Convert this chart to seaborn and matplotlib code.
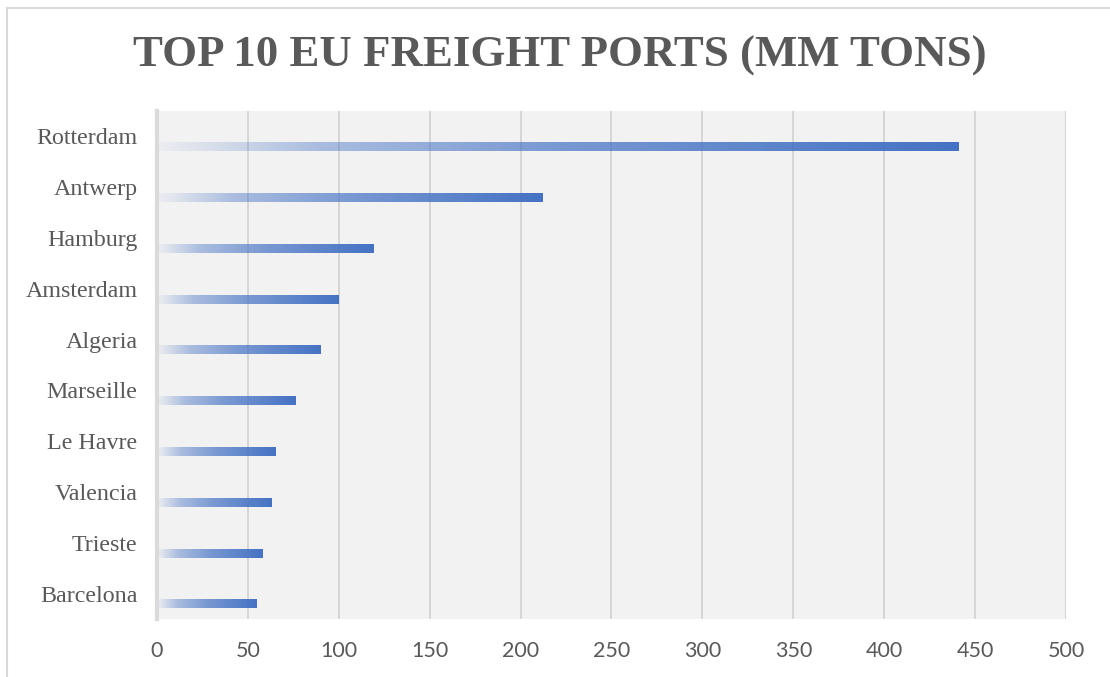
import matplotlib
matplotlib.use("Agg")
import matplotlib.pyplot as plt
import numpy as np
import pandas as pd
import seaborn as sns
from matplotlib.colors import to_rgb
from matplotlib.patches import Rectangle


PORTS = ["Rotterdam", "Antwerp", "Hamburg", "Amsterdam", "Algeria",
         "Marseille", "Le Havre", "Valencia", "Trieste", "Barcelona"]
TONS = [441, 212, 119, 100, 90, 76, 65, 63, 58, 55]
X_TICKS = [0, 50, 100, 150, 200, 250, 300, 350, 400, 450, 500]

TITLE = "TOP 10 EU FREIGHT PORTS (MM TONS)"
BAR_COLOR = "#4472C4"
TEXT_COLOR = "#595959"
GRID_COLOR = "#d4d4d4"
PANEL_COLOR = "#f2f2f2"


def gradient_image(color: str, n: int = 256) -> np.ndarray:
    # per-bar fade from nearly transparent on the left to solid on the right
    t = np.linspace(0, 1, n)
    alpha = np.interp(t, [0.0, 0.05, 0.2, 0.5, 1.0], [0.04, 0.12, 0.42, 0.7, 1.0])
    img = np.zeros((1, n, 4))
    img[..., :3] = to_rgb(color)
    img[..., 3] = alpha
    return img


sns.set_style("white")
plt.rcParams["font.family"] = ["Liberation Serif", "DejaVu Serif"]

df = pd.DataFrame({"port": PORTS, "tons": TONS})

fig = plt.figure(figsize=(11.1, 6.77), dpi=100)
ax = fig.add_axes([0.1414, 0.0857, 0.8190, 0.7503])
ax.set_facecolor(PANEL_COLOR)

bar_height = 0.16
offset = 0.21
sns.barplot(data=df, x="tons", y="port", orient="h", width=bar_height,
            color=BAR_COLOR, ax=ax)

img = gradient_image(BAR_COLOR)
for patch in ax.patches:
    patch.set_y(patch.get_y() + offset)
    x0, y0 = patch.get_x(), patch.get_y()
    w, h = patch.get_width(), patch.get_height()
    ax.imshow(img, extent=[x0, x0 + w, y0 + h, y0], aspect="auto",
              interpolation="bilinear", zorder=3)
    patch.set_visible(False)

ax.set_xlim(0, 500)
ax.set_ylim(len(PORTS) - 0.5, -0.5)
ax.set_xticks(X_TICKS)
ax.set_xticklabels([str(v) for v in X_TICKS], family="Lato", fontsize=15.5, color=TEXT_COLOR)
ax.set_yticks(range(len(PORTS)))
ax.set_yticklabels(PORTS, fontsize=17.3, color=TEXT_COLOR)
ax.tick_params(axis="x", length=0, pad=16)
ax.tick_params(axis="y", length=0, pad=14)
ax.set_xlabel("")
ax.set_ylabel("")

ax.xaxis.grid(True, color=GRID_COLOR, linewidth=1.3, zorder=0)
ax.yaxis.grid(False)
ax.set_axisbelow(True)
for side in ["top", "right", "bottom"]:
    ax.spines[side].set_visible(False)
ax.spines["left"].set_color("#dadada")
ax.spines["left"].set_linewidth(3.0)
ax.spines["left"].set_zorder(5)

fig.text(0.5045, 0.917, TITLE, ha="center", va="center", fontsize=32.3,
         fontweight="bold", color=TEXT_COLOR)

# chart frame as in the spreadsheet export
fig.patches.append(Rectangle((7 / 1110, -0.1), 1.2, 1 - 8 / 677 + 0.1,
                             transform=fig.transFigure, fill=False,
                             edgecolor="#d9d9d9", linewidth=1.5))

fig.savefig("out.png", dpi=100)
plt.close(fig)
